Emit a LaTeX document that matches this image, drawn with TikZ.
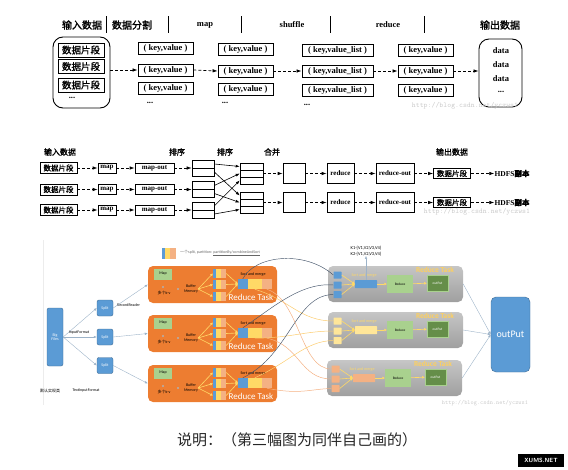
\documentclass[tikz,border=0pt]{standalone}
\usepackage{fontspec}
\setmainfont{Liberation Serif}
\newfontfamily\cjk{Noto Sans CJK SC}
\newfontfamily\cjkb[FakeBold=1.6]{Noto Sans CJK SC}
\newfontfamily\calfont{Carlito}
\usepackage{tikz}
\usetikzlibrary{positioning,arrows.meta}
\usepackage{xcolor}
\definecolor{taskorange}{HTML}{ED7D31}
\definecolor{kblue}{HTML}{5B9BD5}
\definecolor{kyellow}{HTML}{FFD966}
\definecolor{lyellow}{HTML}{FFE699}
\definecolor{ksalmon}{HTML}{F4B183}
\definecolor{lgreen}{HTML}{A9D18E}
\definecolor{dgreen}{HTML}{548235}
\definecolor{slate}{HTML}{44546A}
\definecolor{wirecol}{HTML}{9DB3C8}

\begin{document}
\begin{tikzpicture}[x=1pt, y=-1pt,
  hdr/.style={font=\cjkb\fontsize{10}{11}\selectfont, inner sep=0pt},
  hdrlat/.style={font=\bfseries\fontsize{8.5}{10}\selectfont, inner sep=0pt},
  holder/.style={draw, line width=0.9pt, rounded corners=10pt},
  seg/.style={draw, line width=0.9pt, minimum width=46, minimum height=14, inner sep=0pt, font=\cjkb\fontsize{9.5}{10}\selectfont},
  kv/.style={draw, line width=0.8pt, minimum width=55, minimum height=12, inner sep=0pt, font=\bfseries\fontsize{8.5}{10}\selectfont},
  plain/.style={inner sep=0pt, font=\bfseries\fontsize{8.5}{9}\selectfont},
  dasharr/.style={dash pattern=on 3pt off 2pt, line width=0.7pt, -{Latex[length=5pt,width=3.5pt]}},
  hdrsm/.style={font=\cjkb\fontsize{8}{9}\selectfont, inner sep=0pt},
  seg2/.style={draw, line width=0.7pt, minimum width=37, minimum height=11, inner sep=0pt, font=\cjkb\fontsize{7.5}{8}\selectfont},
  box2/.style={draw, line width=0.7pt, minimum height=10, inner sep=0pt, font=\bfseries\fontsize{7}{8}\selectfont},
  tall2/.style={box2, minimum height=20},
  cell/.style={draw, line width=0.6pt, minimum width=22, minimum height=8, inner sep=0pt},
  cellthree/.style={draw, line width=0.6pt, minimum width=23, minimum height=7, inner sep=0pt},
  cross/.style={line width=0.6pt, -{Latex[length=4pt,width=3pt]}},
  tinytxt/.style={inner sep=0pt, font=\calfont\fontsize{4}{4.5}\selectfont},
  bigblue/.style={fill=kblue, draw=kblue!70!black, line width=0.4pt, rounded corners=2pt, text=white, font=\calfont\fontsize{4}{4.5}\selectfont, align=center},
  wire/.style={draw=wirecol, line width=0.4pt, -{Latex[length=3pt,width=2.5pt]}},
  maptask/.style={fill=taskorange, rounded corners=5pt, minimum width=129, minimum height=37},
  redtask/.style={top color=gray!45, bottom color=gray!75, rounded corners=5pt, minimum width=135, minimum height=36},
  mapbox/.style={fill=lgreen, minimum width=18, minimum height=11, inner sep=0pt, font=\calfont\fontsize{4}{4.5}\selectfont},
  dotmark/.style={circle, fill=gray!60, minimum size=2.2, inner sep=0pt},
  partbar/.style={minimum width=13, minimum height=9, inner sep=0pt, fill=ksalmon,
    path picture={\fill[kyellow] (path picture bounding box.south west) rectangle ([xshift=8pt]path picture bounding box.north west);
      \fill[kblue] (path picture bounding box.south west) rectangle ([xshift=3pt]path picture bounding box.north west);}},
  mergebar/.style={minimum width=34, minimum height=10, inner sep=0pt, fill=ksalmon,
    path picture={\fill[kyellow] (path picture bounding box.south west) rectangle ([xshift=24pt]path picture bounding box.north west);
      \fill[kblue] (path picture bounding box.south west) rectangle ([xshift=10pt]path picture bounding box.north west);}},
  fan/.style={draw=kyellow, line width=0.6pt, -{Triangle[length=2.5pt,width=2.5pt]}},
  tasktitle/.style={inner sep=0pt, text=white, font=\calfont\fontsize{9}{10}\selectfont},
  sq/.style={minimum width=8, minimum height=7, inner sep=0pt, rounded corners=0.5pt},
  gmerge/.style={minimum width=22, minimum height=8, inner sep=0pt, rounded corners=0.5pt},
  redbox/.style={fill=lgreen, minimum width=26, minimum height=18, inner sep=0pt, font=\calfont\fontsize{3.5}{4}\selectfont},
  outsmall/.style={fill=dgreen!90, draw=lgreen, line width=0.5pt, minimum width=21, minimum height=16, inner sep=0pt, text=white, font=\calfont\fontsize{3.5}{4}\selectfont},
  yeltitle/.style={inner sep=0pt, text=kyellow!90!orange, font=\calfont\bfseries\fontsize{7.5}{8}\selectfont},
  slatewire/.style={draw=slate, line width=0.45pt},
  shufy/.style={draw=kyellow!70!ksalmon, line width=0.5pt},
  shufs/.style={draw=ksalmon, line width=0.5pt},
  webmark/.style={inner sep=0pt, text=gray!40, font=\ttfamily\fontsize{7.4}{8}\selectfont}]

\useasboundingbox (0,0) rectangle (568,469);

% ---- first figure
\node[hdr] (hin) at (82,25) {输入数据};
\node[hdr] (hsplit) at (132,25) {数据分割};
\node[hdrlat] (hmap) at (205,25) {map};
\node[hdrlat] (hshuf) at (292,25) {shuffle};
\node[hdrlat] (hred) at (388,25) {reduce};
\node[hdr] (hout) at (500,25) {输出数据};
\draw[line width=0.8pt] (106,16) -- (106,33) (168,16) -- (168,33) (241,16) -- (241,33)
  (330,16) -- (330,33) (424,16) -- (424,33);

\node[holder, minimum width=57, minimum height=71] (inbox) at (81.5,72.5) {};
\node[seg] (seg1) at (81,50) {数据片段};
\node[seg] (seg2) at (81,66.5) {数据片段};
\node[seg] (seg3) at (81,85) {数据片段};
\node[plain] (dotsin) at (72,98) {...};

\node[kv] (kv11) at (165.5,48.5) {( key,value )};
\node[kv] (kv12) at (165.5,70) {( key,value )};
\node[kv] (kv13) at (165.5,88.5) {( key,value )};
\node[plain] (dots1) at (150,103) {...};
\node[kv] (kv21) at (245.5,49.5) {( key,value )};
\node[kv] (kv22) at (245.5,71) {( key,value )};
\node[kv] (kv23) at (245.5,89) {( key,value )};
\node[plain] (dots2) at (225,103) {...};
\node[kv, minimum width=71] (kl31) at (337.5,50.5) {( key,value\_list )};
\node[kv, minimum width=71] (kl32) at (337.5,71) {( key,value\_list )};
\node[kv, minimum width=71] (kl33) at (337.5,90.5) {( key,value\_list )};
\node[plain] (dots3) at (307,105) {...};
\node[kv] (kv41) at (425.5,50.5) {( key,value )};
\node[kv] (kv42) at (425.5,71) {( key,value )};
\node[kv] (kv43) at (425.5,90.5) {( key,value )};

\node[holder, minimum width=43, minimum height=68] (outbox) at (500.5,73) {};
\node[plain] (data1) at (501,51) {data};
\node[plain] (data2) at (501,65) {data};
\node[plain] (data3) at (501,79) {data};
\node[plain] (dotsout) at (501,92) {...};

\draw[dasharr] (inbox.east |- kv12.west) -- (kv12.west);
\draw[dasharr] (kv12.east) -- (kv22.west);
\draw[dasharr] (kv22.east) -- (kl32.west);
\draw[dasharr] (kl32.east) -- (kv42.west);
\draw[dasharr] (kv42.east) -- (outbox.west |- kv42.east);
\node[webmark] (web1) at (465,106) {http://blog.csdn.net/yczws1};

% ---- second figure
\node[hdrsm] (h2in) at (60,152) {输入数据};
\node[hdrsm] (h2sa) at (177,152) {排序};
\node[hdrsm] (h2sb) at (225,152) {排序};
\node[hdrsm] (h2mg) at (272,152) {合并};
\node[hdrsm] (h2out) at (452,152) {输出数据};

\node[seg2] (sA1) at (58.5,168) {数据片段};
\node[seg2] (sA2) at (58.5,189.5) {数据片段};
\node[seg2] (sA3) at (58.5,210) {数据片段};
\node[box2, minimum width=18] (mA1) at (107,168) {map};
\node[box2, minimum width=18] (mA2) at (107,189.5) {map};
\node[box2, minimum width=18] (mA3) at (107,210) {map};
\node[box2, minimum width=39] (moA1) at (154.5,168) {map-out};
\node[box2, minimum width=39] (moA2) at (154.5,189.5) {map-out};
\node[box2, minimum width=39] (moA3) at (154.5,210) {map-out};
\node[cell] (so1a) at (203,164) {};
\node[cell] (so1b) at (203,172) {};
\node[cell] (so2a) at (203,185.5) {};
\node[cell] (so2b) at (203,193.5) {};
\node[cell] (so3a) at (203,206) {};
\node[cell] (so3b) at (203,214) {};
\node[cellthree] (st1a) at (251.5,166.5) {};
\node[cellthree] (st1b) at (251.5,173.5) {};
\node[cellthree] (st1c) at (251.5,180.5) {};
\node[cellthree] (st2a) at (251.5,195.5) {};
\node[cellthree] (st2b) at (251.5,202.5) {};
\node[cellthree] (st2c) at (251.5,209.5) {};

\draw[dasharr] (sA1) -- (mA1);
\draw[dasharr] (sA2) -- (mA2);
\draw[dasharr] (sA3) -- (mA3);
\draw[dasharr] (mA1) -- (moA1);
\draw[dasharr] (mA2) -- (moA2);
\draw[dasharr] (mA3) -- (moA3);
\draw[dasharr] (moA1.east) -- (moA1.east -| so1a.west);
\draw[dasharr] (moA2.east) -- (moA2.east -| so2a.west);
\draw[dasharr] (moA3.east) -- (moA3.east -| so3a.west);
\draw[cross] (so1a.east) -- (st1a.west);
\draw[cross] (so1b.east) -- (st2a.west);
\draw[cross] (so2a.east) -- (st1b.west);
\draw[cross] (so2b.east) -- (st2b.west);
\draw[cross] (so3a.east) -- (st1c.west);
\draw[cross] (so3b.east) -- (st2c.west);

\node[tall2, minimum width=22] (mg1) at (294,173.5) {};
\node[tall2, minimum width=22] (mg2) at (294,202.5) {};
\node[tall2, minimum width=27] (rd1) at (340.5,173.5) {reduce};
\node[tall2, minimum width=27] (rd2) at (340.5,202.5) {reduce};
\node[tall2, minimum width=38] (ro1) at (395,173.5) {reduce-out};
\node[tall2, minimum width=38] (ro2) at (395,202.5) {reduce-out};
\node[seg2, minimum height=10] (os1) at (452,173.5) {数据片段};
\node[seg2, minimum height=10] (os2) at (452,202.5) {数据片段};
\node[inner sep=0pt, font=\bfseries\fontsize{7.5}{8}\selectfont] (hd1) at (512,173.5) {HDFS{\cjkb 副本}};
\node[inner sep=0pt, font=\bfseries\fontsize{7.5}{8}\selectfont] (hd2) at (512,202.5) {HDFS{\cjkb 副本}};
\draw[dasharr] (st1b) -- (mg1);
\draw[dasharr] (st2b) -- (mg2);
\draw[dasharr] (mg1) -- (rd1);
\draw[dasharr] (mg2) -- (rd2);
\draw[dasharr] (rd1) -- (ro1);
\draw[dasharr] (rd2) -- (ro2);
\draw[dasharr] (ro1) -- (os1);
\draw[dasharr] (ro2) -- (os2);
\draw[dasharr] (os1) -- (hd1);
\draw[dasharr] (os2) -- (hd2);
\node[webmark] (web2) at (477,212) {http://blog.csdn.net/yczws1};

% ---- third figure
\draw[gray!15, line width=0.6pt] (43,240) -- (43,405);
\node[partbar, minimum width=14, minimum height=11] (legend) at (169,253) {};
\node[tinytxt, anchor=west, text=gray!80!black] (legtxt) at (180,253) {{\cjk 一个}split, partition: \underline{partitionBy/combineAndSort}};

\node[bigblue, minimum width=16, minimum height=58] (big) at (55,337) {Big\\Files};
\node[bigblue, minimum width=16, minimum height=16] (sp1) at (105,308) {Split};
\node[bigblue, minimum width=16, minimum height=16] (sp2) at (105,337) {Split};
\node[bigblue, minimum width=16, minimum height=16] (sp3) at (105,365.5) {Split};
\draw[wire] (big.east) -- (sp1.west);
\draw[wire] (big.east) -- (sp2.west);
\draw[wire] (big.east) -- (sp3.west);
\node[tinytxt] (infmt) at (79,333) {InputFormat};
\node[tinytxt, anchor=west] (rrd) at (117,305) {RecordReader};
\node[tinytxt] (dflt) at (50,391) {{\cjk 默认实现类}};
\node[tinytxt] (tif) at (86,391) {TextInputFormat};

\node[maptask] (mt1) at (212.5,284.5) {};
\node[maptask] (mt2) at (212.5,333.5) {};
\node[maptask] (mt3) at (212.5,383.5) {};
\draw[wire] (sp1.east) -- (mt1.west);
\draw[wire] (sp2.east) -- (mt2.west);
\draw[wire] (sp3.east) -- (mt3.west);

\node[mapbox] (mbx1) at (163,274) {Map};
\node[dotmark] (dk1) at (163,287) {};
\node[tinytxt] (kvn1) at (164,293) {{\cjk 多个}k-v};
\node[dotmark] (db1) at (178,289) {};
\node[tinytxt, align=center] (buf1) at (191,289) {Buffer\\Memory};
\node[partbar] (pb1a) at (219.5,273.5) {};
\node[partbar] (pb1b) at (219.5,284.5) {};
\node[partbar] (pb1c) at (219.5,296.5) {};
\node[tinytxt] (smA1) at (253,274) {Sort and merge};
\node[mergebar] (mb1) at (255,284) {};
\node[tasktitle] (rtA1) at (251,297) {Reduce Task};
\draw[fan] (buf1.east) -- (pb1a.west);
\draw[fan] (buf1.east) -- (pb1b.west);
\draw[fan] (buf1.east) -- (pb1c.west);
\draw[fan] (pb1a.east) -- (mb1.west);
\draw[fan] (pb1b.east) -- (mb1.west);
\draw[fan] (pb1c.east) -- (mb1.west);

\node[mapbox] (mbx2) at (163,323) {Map};
\node[dotmark] (dk2) at (163,336) {};
\node[tinytxt] (kvn2) at (164,342) {{\cjk 多个}k-v};
\node[dotmark] (db2) at (178,338) {};
\node[tinytxt, align=center] (buf2) at (191,338) {Buffer\\Memory};
\node[partbar] (pb2a) at (219.5,322.5) {};
\node[partbar] (pb2b) at (219.5,333.5) {};
\node[partbar] (pb2c) at (219.5,345.5) {};
\node[tinytxt] (smA2) at (253,323) {Sort and merge};
\node[mergebar] (mb2) at (255,333) {};
\node[tasktitle] (rtA2) at (251,346) {Reduce Task};
\draw[fan] (buf2.east) -- (pb2a.west);
\draw[fan] (buf2.east) -- (pb2b.west);
\draw[fan] (buf2.east) -- (pb2c.west);
\draw[fan] (pb2a.east) -- (mb2.west);
\draw[fan] (pb2b.east) -- (mb2.west);
\draw[fan] (pb2c.east) -- (mb2.west);

\node[mapbox] (mbx3) at (163,373) {Map};
\node[dotmark] (dk3) at (163,386) {};
\node[tinytxt] (kvn3) at (164,392) {{\cjk 多个}k-v};
\node[dotmark] (db3) at (178,388) {};
\node[tinytxt, align=center] (buf3) at (191,388) {Buffer\\Memory};
\node[partbar] (pb3a) at (219.5,372.5) {};
\node[partbar] (pb3b) at (219.5,383.5) {};
\node[partbar] (pb3c) at (219.5,395.5) {};
\node[tinytxt] (smA3) at (253,373) {Sort and merge};
\node[mergebar] (mb3) at (255,383) {};
\node[tasktitle] (rtA3) at (251,396) {Reduce Task};
\draw[fan] (buf3.east) -- (pb3a.west);
\draw[fan] (buf3.east) -- (pb3b.west);
\draw[fan] (buf3.east) -- (pb3c.west);
\draw[fan] (pb3a.east) -- (mb3.west);
\draw[fan] (pb3b.east) -- (mb3.west);
\draw[fan] (pb3c.east) -- (mb3.west);

% reduce side
\node[redtask] (gt1) at (395.5,284) {};
\node[redtask] (gt2) at (395.5,330) {};
\node[redtask] (gt3) at (394.5,378) {};
\node[yeltitle] (rtB1) at (435,270) {Reduce Task};
\node[yeltitle] (rtB2) at (435,316) {Reduce Task};
\node[yeltitle] (rtB3) at (433,364) {Reduce Task};

\node[sq, fill=kblue] (q1a) at (337.5,275) {};
\node[sq, fill=kblue] (q1b) at (337.5,285) {};
\node[sq, fill=kblue] (q1c) at (337.5,294.5) {};
\node[sq, fill=lyellow] (q2a) at (337.5,321) {};
\node[sq, fill=lyellow] (q2b) at (337.5,331) {};
\node[sq, fill=lyellow] (q2c) at (337.5,340.5) {};
\node[sq, fill=ksalmon] (q3a) at (335.5,369) {};
\node[sq, fill=ksalmon] (q3b) at (335.5,379) {};
\node[sq, fill=ksalmon] (q3c) at (335.5,388.5) {};

\node[tinytxt, text=kyellow] (smB1) at (364,275) {Sort and merge};
\node[tinytxt, text=kyellow] (smB2) at (364,321) {Sort and merge};
\node[tinytxt, text=kyellow] (smB3) at (362,369) {Sort and merge};
\node[gmerge, fill=kblue] (gm1) at (366,284) {};
\node[gmerge, fill=lyellow] (gm2) at (366,330) {};
\node[gmerge, fill=ksalmon] (gm3) at (364,378) {};
\node[redbox] (gred1) at (400,284) {Reduce};
\node[redbox] (gred2) at (400,330) {Reduce};
\node[redbox] (gred3) at (398,378) {Reduce};
\node[outsmall] (gout1) at (437.5,283) {outPut};
\node[outsmall] (gout2) at (437.5,329) {outPut};
\node[outsmall] (gout3) at (435.5,377) {outPut};

\draw[fan] (q1a.east) -- (gm1.west);
\draw[fan] (q1b.east) -- (gm1.west);
\draw[fan] (q1c.east) -- (gm1.west);
\draw[fan] (q2a.east) -- (gm2.west);
\draw[fan] (q2b.east) -- (gm2.west);
\draw[fan] (q2c.east) -- (gm2.west);
\draw[fan] (q3a.east) -- (gm3.west);
\draw[fan] (q3b.east) -- (gm3.west);
\draw[fan] (q3c.east) -- (gm3.west);
\draw[fan] (gm1) -- (gred1);
\draw[fan] (gm2) -- (gred2);
\draw[fan] (gm3) -- (gred3);
\draw[fan] (gred1) -- (gout1);
\draw[fan] (gred2) -- (gout2);
\draw[fan] (gred3) -- (gout3);

\node[tinytxt, font=\calfont\fontsize{4.5}{5.5}\selectfont, align=center] (kk) at (366,251) {K1-\{V1,V2,V3,V4\}\\K2-\{V1,V2,V3,V4\}};
\draw[wire] (gm1.north) -- (kk.south);

\node[bigblue, rounded corners=5pt, minimum width=39, minimum height=75, font=\calfont\fontsize{10}{11}\selectfont] (outp) at (510.5,334.5) {outPut};
\draw[wire] (gt1.east) -- (outp.west);
\draw[wire] (gt2.east) -- (outp.west);
\draw[wire] (gt3.east) -- (outp.west);

% shuffle wires
\draw[shufy] ([xshift=17pt]mb1.south west) .. controls (290,300) and (300,321) .. (q2a.west);
\draw[shufs] ([xshift=29pt]mb1.south west) .. controls (300,300) and (300,369) .. (q3a.west);
\draw[shufy] ([xshift=17pt]mb2.south west) .. controls (290,338) and (305,331) .. (q2b.west);
\draw[shufs] ([xshift=29pt]mb2.south west) .. controls (300,345) and (300,379) .. (q3b.west);
\draw[shufy] ([xshift=17pt]mb3.north west) .. controls (290,362) and (305,341) .. (q2c.west);
\draw[shufs] ([xshift=29pt]mb3.south west) .. controls (300,395) and (310,389) .. (q3c.west);
\draw[slatewire] ([xshift=5pt]mb1.north west) .. controls (255,255) and (305,250) .. (q1a.west);
\draw[slatewire] ([xshift=5pt]mb2.north west) .. controls (270,310) and (300,282) .. (q1b.west);
\draw[slatewire] ([xshift=5pt]mb3.north west) .. controls (290,355) and (295,295) .. (q1c.west);
\node[webmark, font=\ttfamily\fontsize{6}{7}\selectfont] (web3) at (485,403) {http://blog.csdn.net/yczws1};

% ---- caption
\node[inner sep=0pt, text=black!85, font=\cjk\fontsize{15}{16}\selectfont] (note) at (297,440) {说明：（第三幅图为同伴自己画的）};
\node[fill=black, text=white, inner sep=0pt, minimum width=46, minimum height=13, font=\sffamily\bfseries\fontsize{6}{7}\selectfont] (logo) at (541,460) {XUMS.NET};
\end{tikzpicture}
\end{document}
